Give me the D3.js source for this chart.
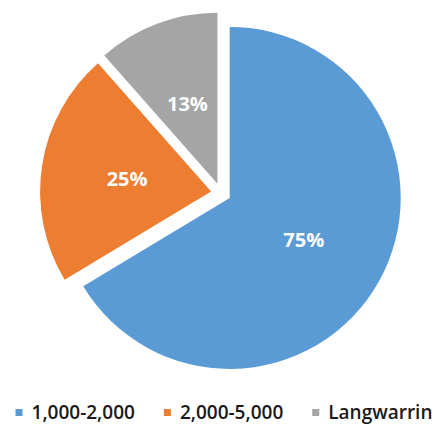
<!DOCTYPE html>
<html>
<head>
<meta charset="utf-8">
<script src="https://cdn.jsdelivr.net/npm/d3@7/dist/d3.min.js"></script>
<style>
  html, body { margin: 0; padding: 0; background: #fff; }
  svg { display: block; }
</style>
</head>
<body>
<svg id="chart" width="438" height="426"></svg>
<script>
// Share of each group (labels show the raw value with a % sign)
const categories = ["1,000-2,000", "2,000-5,000", "Langwarrin"];
const values = [75, 25, 13];
const colors = ["#5B9BD5", "#ED7D31", "#A5A5A5"];

const width = 438, height = 426;
const cx = 221, cy = 193;
const radius = 171;
const explode = 10;     // every slice pushed out from the centre
const labelRadius = 85;

const svg = d3.select("#chart");

const pie = d3.pie().sort(null).value(d => d.value).startAngle(0).endAngle(2 * Math.PI);
const arc = d3.arc().innerRadius(0).outerRadius(radius);
const labelArc = d3.arc().innerRadius(labelRadius).outerRadius(labelRadius);

const data = categories.map((c, i) => ({ category: c, value: values[i], color: colors[i] }));
const arcs = pie(data);

const offset = d => {
  const a = (d.startAngle + d.endAngle) / 2;
  return [Math.sin(a) * explode, -Math.cos(a) * explode];
};

const g = svg.append("g").attr("transform", `translate(${cx},${cy})`);

const slice = g.selectAll("g.slice")
  .data(arcs)
  .join("g")
  .attr("class", "slice")
  .attr("transform", d => `translate(${offset(d)})`);

slice.append("path")
  .attr("d", arc)
  .attr("fill", d => d.data.color);

slice.append("text")
  .attr("transform", d => `translate(${labelArc.centroid(d)})`)
  .attr("text-anchor", "middle")
  .attr("dy", "0.36em")
  .attr("fill", "#fff")
  .attr("font-family", "'Open Sans', 'Liberation Sans', sans-serif")
  .attr("font-weight", 700)
  .attr("font-size", 20)
  .text(d => d.data.value + "%");

// Legend along the bottom, centred
const legend = svg.append("g");
const item = legend.selectAll("g.item")
  .data(data)
  .join("g")
  .attr("class", "item");

item.append("rect")
  .attr("width", 7)
  .attr("height", 7)
  .attr("y", -6)
  .attr("fill", d => d.color);

item.append("text")
  .attr("x", 16)
  .attr("y", 4)
  .attr("font-family", "'Open Sans', 'Liberation Sans', sans-serif")
  .attr("font-weight", 600)
  .attr("font-size", 19)
  .attr("fill", "#1a1a1a")
  .text(d => d.category);

const gap = 29;
let x = 0;
item.each(function () {
  const w = this.querySelector("text").getComputedTextLength();
  d3.select(this).attr("transform", `translate(${x},0)`);
  x += 16 + w + gap;
});
const total = x - gap;
legend.attr("transform", `translate(${224 - total / 2},${415})`);
</script>
</body>
</html>
